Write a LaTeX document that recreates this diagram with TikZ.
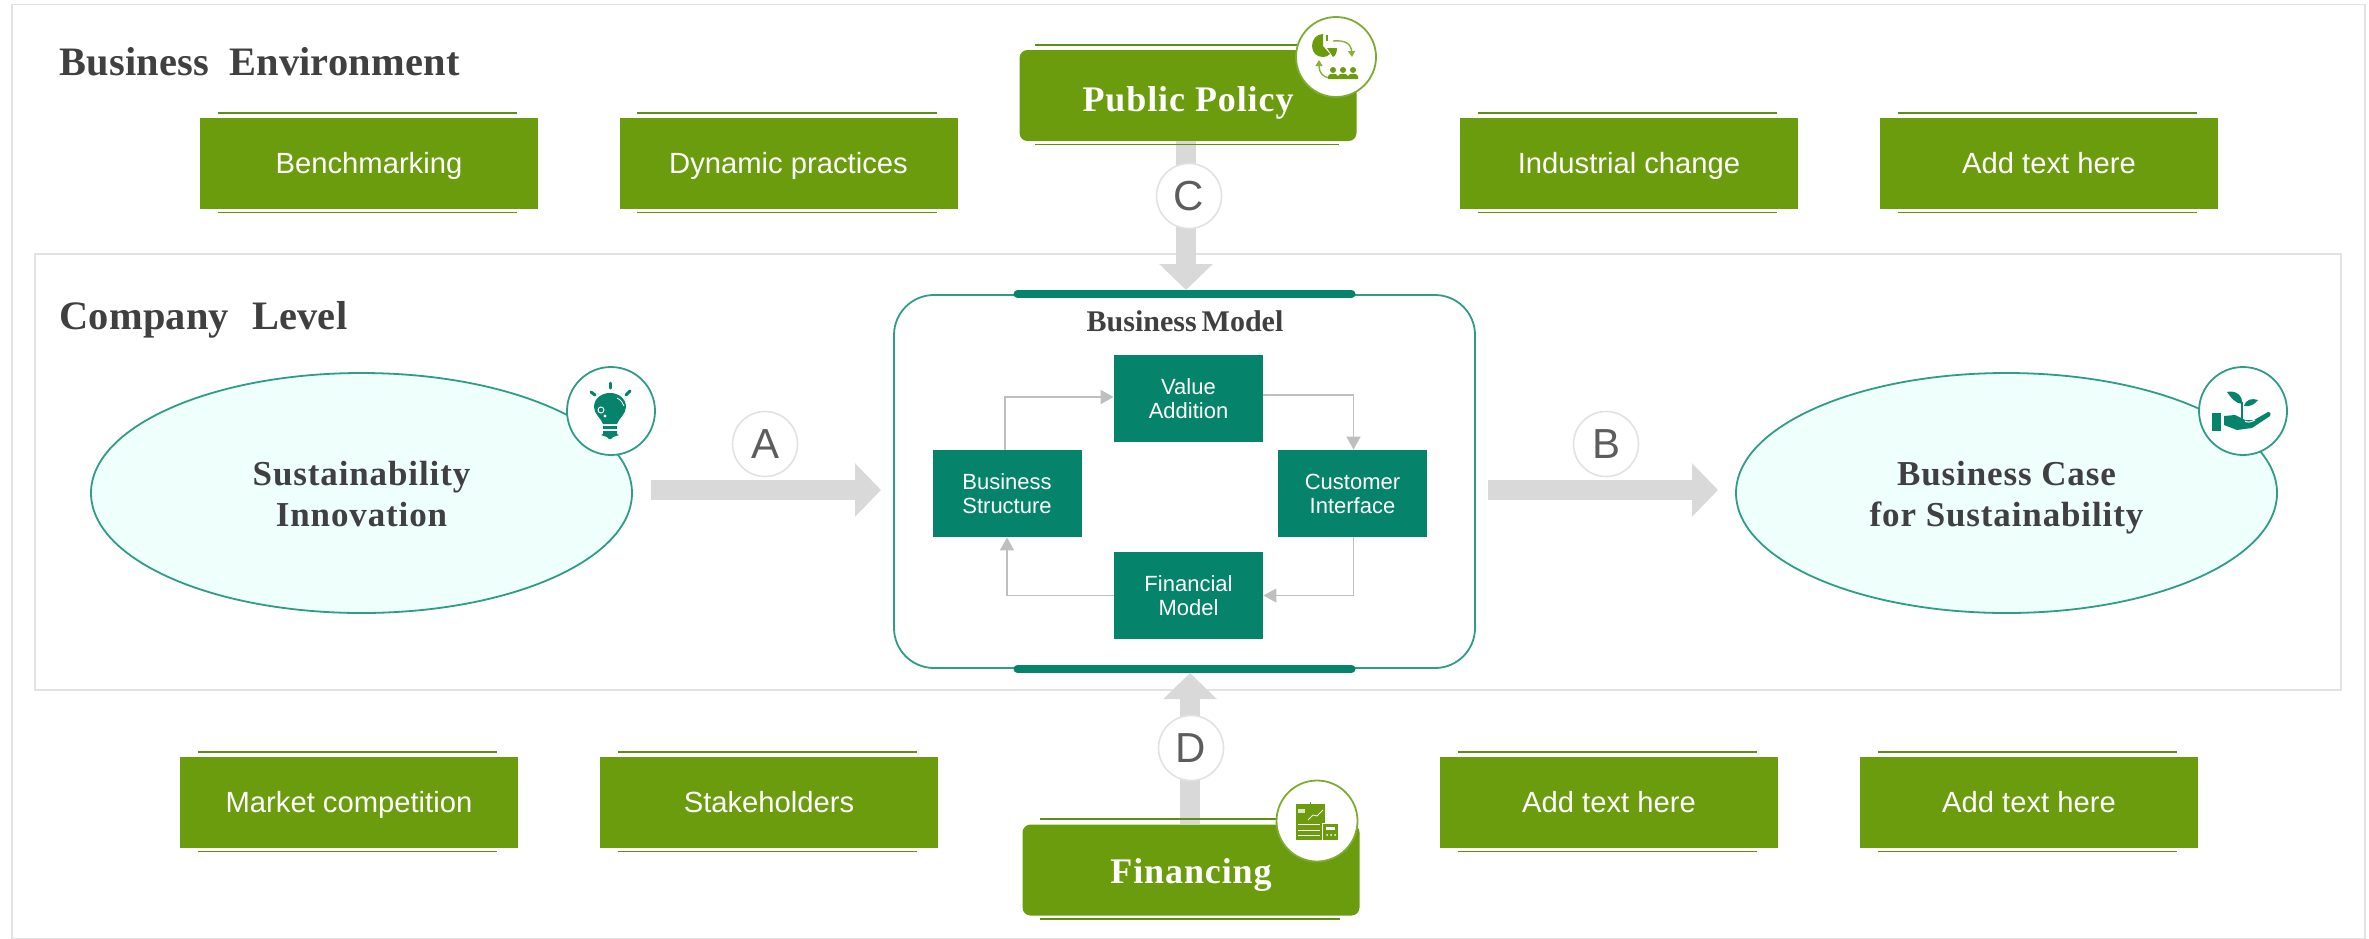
\documentclass[tikz,border=0pt]{standalone}
\usepackage{fontspec}
\setmainfont{Liberation Sans}
\newfontfamily\headfont[LetterSpace=0.5]{Liberation Serif}
\newfontfamily\serifbold{Liberation Serif}
\newfontfamily\spacedserif[LetterSpace=2.5]{Liberation Serif}
\usetikzlibrary{arrows.meta,calc,shapes.geometric}
\definecolor{leaf}{HTML}{6A9C0E}
\definecolor{leafline}{HTML}{5F8F12}
\definecolor{sea}{HTML}{05846B}
\definecolor{seaedge}{HTML}{2F9C88}
\definecolor{mint}{HTML}{EEFFFC}
\definecolor{frame}{HTML}{E2E2E2}
\definecolor{dark}{HTML}{404040}
\definecolor{flow}{HTML}{D9D9D9}
\definecolor{thin}{HTML}{BFBFBF}
\tikzset{
  x=0.5pt,y=-0.5pt,
  framebox/.style={draw=frame,line width=0.8pt,fill=white},
  leafbox/.style={fill=leaf,inner sep=0pt,minimum width=169pt,minimum height=45.5pt,text=white,text height=10pt,text depth=0pt,font=\fontsize{14.6}{17}\selectfont},
  bigbox/.style={fill=leaf,rounded corners=4pt,inner sep=0pt,minimum width=168.5pt,minimum height=45.5pt,text=white,text height=15pt,text depth=2pt,font=\fontsize{18}{22}\spacedserif\bfseries},
  seabox/.style={fill=sea,inner sep=0pt,minimum width=74.5pt,minimum height=43.5pt,text=white,align=center,font=\fontsize{11}{12}\selectfont},
  oval/.style={ellipse,draw=seaedge,fill=mint,line width=0.9pt,inner sep=0pt,minimum width=270.5pt,minimum height=120pt,text=dark,align=center,font=\fontsize{17.5}{20.5}\spacedserif\bfseries},
  badge/.style={circle,fill=white,line width=0.9pt,inner sep=0pt,minimum size=44pt},
  letter/.style={circle,draw=frame,line width=0.8pt,fill=white,inner sep=0pt,minimum size=32.5pt,text=dark!85,font=\fontsize{21}{24}\selectfont},
  head/.style={anchor=west,inner sep=0pt,text=dark,font=\fontsize{20.2}{24}\headfont\bfseries},
  flowarrow/.style={draw=flow,line width=10pt,-{Triangle[length=13pt,width=26pt]}},
  loop/.style={draw=thin,line width=0.8pt,-{Triangle[length=6.5pt,width=7pt]}},
  edge/.style={draw=leafline,line width=0.9pt},
  bar/.style={draw=sea,line width=4pt,line cap=round}
}
\begin{document}
\begin{tikzpicture}
\useasboundingbox (0,0) rectangle (2369,938);
\fill[white] (0,0) rectangle (2369,938);
\node[framebox,minimum width=1176.5pt,minimum height=467.25pt,inner sep=0pt] (outer) at (1188.5,471.75) {};
\node[framebox,minimum width=1153pt,minimum height=218pt,inner sep=0pt] (company) at (1188,472) {};

\node[head] (envtitle) at (59,62) {Business\hspace{5pt} Environment};
\node[head] (comptitle) at (59,320) {Company\hspace{6.5pt} Level};

% boxes
\node[leafbox] (b1) at (369,163.5) {Benchmarking};
\node[leafbox] (b2) at (788.5,163.5) {Dynamic practices};
\node[leafbox] (b3) at (1629,163.5) {Industrial change};
\node[leafbox] (b4) at (2049,163.5) {Add text here};
\node[leafbox] (b5) at (349,802.5) {Market competition};
\node[leafbox] (b6) at (769,802.5) {Stakeholders};
\node[leafbox] (b7) at (1609,802.5) {Add text here};
\node[leafbox] (b8) at (2029,802.5) {Add text here};
\foreach \n in {b1,b2,b3,b4,b5,b6,b7,b8}{
  \draw[edge] ($(\n.north west)+(18,-5)$) -- ($(\n.north east)+(-21,-5)$);
  \draw[edge] ($(\n.south west)+(18,3)$) -- ($(\n.south east)+(-21,3)$);
}

% model
\node[draw=seaedge,fill=white,line width=0.9pt,rounded corners=20pt,inner sep=0pt,minimum width=290.5pt,minimum height=186.5pt] (model) at (1184.5,481.5) {};
\draw[bar] ($(model.north)+(-167,0)$) -- ($(model.north)+(167,0)$);
\draw[bar] ($(model.south)+(-167,0)$) -- ($(model.south)+(167,0)$);
\node[inner sep=0pt,text=dark,font=\fontsize{15}{18}\serifbold\bfseries] (modeltitle) at (1185,321) {Business\hspace{2.5pt}Model};

\node[seabox] (value) at (1188.5,398.5) {Value\\Addition};
\node[seabox] (struct) at (1007,493.5) {Business\\Structure};
\node[seabox] (cust) at (1352.5,493.5) {Customer\\Interface};
\node[seabox] (fin) at (1188.5,595.5) {Financial\\Model};
\draw[loop] ([xshift=-1pt]struct.north) |- (value.west |- 0,397);
\draw[loop] (value.east |- 0,395) -| ([xshift=0.5pt]cust.north);
\draw[loop] ([xshift=0.5pt]cust.south) |- (fin.east);
\draw[loop] (fin.west) -| (struct.south);

% ovals
\node[oval] (innov) at (361.5,493) {\rule{0pt}{13pt}Sustainability\\Innovation};
\node[oval] (case) at (2006.5,493) {\rule{0pt}{16.5pt}Business Case\\for Sustainability};

% flow arrows
\coordinate (a1) at (651,490);
\coordinate (a2) at (881,490);
\coordinate (b1s) at (1488,490);
\coordinate (b2s) at (1718,490);
\node[bigbox,text height=17pt,text depth=1.2pt] (policy) at (1188,95.5) {Public Policy};
\node[bigbox] (finance) at (1191,870) {Financing};
\coordinate (c2) at (1186,290);
\coordinate (d2) at (1190,673);
\draw[flowarrow] (a1) -- (a2);
\draw[flowarrow] (b1s) -- (b2s);
\draw[flowarrow] ([xshift=-1pt]policy.south) -- (c2);
\draw[flowarrow] ([xshift=-0.5pt]finance.north) -- (d2);
\node[letter] (la) at (765,444) {A};
\node[letter] (lb) at (1606,444) {B};
\node[letter] (lc) at (1189,196) {C};
\node[letter] (ld) at (1191,748) {D};

\draw[edge] ($(policy.north west)+(16,-5)$) -- ($(policy.north east)+(-21,-5)$);
\draw[edge] ($(policy.south west)+(16,3)$) -- ($(policy.south east)+(-18,3)$);
\draw[edge] ($(finance.north west)+(18,-5)$) -- ($(finance.north east)+(-21,-5)$);
\draw[edge] ($(finance.south west)+(18,3)$) -- ($(finance.south east)+(-20,3)$);

% badges
\node[badge,draw=leaf!85!white,minimum size=40pt] (ipolicy) at (1336,57) {};
\node[badge,draw=leaf!85!white,minimum size=40.5pt] (ifin) at (1317,821) {};
\node[badge,draw=seaedge] (ibulb) at (611,411) {};
\node[badge,draw=seaedge] (ihand) at (2243,411) {};

% bulb icon
\begin{scope}[shift={(ibulb.center)}]
\fill[sea] (-8,13) .. controls (-10,7) and (-17,3) .. (-17,-4) .. controls (-17,-13) and (-9,-18) .. (-1,-18)
  .. controls (7,-18) and (15,-13) .. (15,-4) .. controls (15,3) and (8,7) .. (6,13) -- cycle;
\fill[sea] (-8,15) -- (6,15) -- (6,18) -- (-8,18) -- cycle;
\fill[sea] (-8,20) -- (6,20) -- (6,23) -- (8,24) -- (2,26) .. controls (0,29) and (-2,29) .. (-4,26) -- (-10,24) -- (-8,23) -- cycle;
\draw[white,line width=0.5pt] (-10,-1) circle (3);
\fill[white] (-6,5) circle (1.6);
\draw[white,line width=0.4pt] (6,-13) .. controls (10,-11) and (12,-8) .. (13,-5);
\draw[sea,line width=1.5pt,line cap=round] (-1,-28) -- (-1,-23);
\draw[sea,line width=1.5pt,line cap=round] (-20,-19) -- (-16,-16);
\draw[sea,line width=1.5pt,line cap=round] (19,-20) -- (15,-16);
\end{scope}

% hand icon
\begin{scope}[shift={(ihand.center)}]
\fill[sea] (-31,2) rectangle (-22,20);
\fill[sea] (-19,5) -- (-8,4) -- (2,9) -- (11,9) -- (25,1) .. controls (28,1) and (28,4) .. (27,5) -- (9,17) -- (-6,19) -- (-19,14) -- cycle;
\draw[sea,line width=1pt] (-1,8) -- (-1,-9);
\fill[sea] (-16,-19) .. controls (-8,-21) and (0,-16) .. (-1,-7) .. controls (-8,-8) and (-12,-13) .. (-16,-19) -- cycle;
\fill[sea] (1,-5) .. controls (3,-12) and (9,-13) .. (15,-11) .. controls (11,-6) and (6,-4) .. (1,-5) -- cycle;
\draw[white,line width=0.5pt] (2,10) .. controls (4,12) and (8,11) .. (12,9);
\end{scope}

% policy icon
\begin{scope}[shift={(ipolicy.center)}]
\fill[leaf] (-13,-11) -- (-13,-23) .. controls (-20,-23) and (-24,-17) .. (-24,-11) .. controls (-24,-4) and (-19,0) .. (-13,0) .. controls (-10,0) and (-8,-1) .. (-6,-3) -- cycle;
\fill[leaf] (-9,-9) -- (1,-9) .. controls (1,-4) and (-1,-1) .. (-3,0) -- cycle;
\fill[leaf] (-10,-22) rectangle (-8,-16);
\draw[leaf!80!white,line width=0.7pt,-{Triangle[length=3pt,width=3.5pt]}] (-3,-16) .. controls (8,-17) and (15,-14) .. (16,0);
\draw[leaf!80!white,line width=0.7pt,-{Triangle[length=3pt,width=3.5pt]}] (-6,21) .. controls (-14,20) and (-17,15) .. (-17,3);
\foreach \p in {-3,7,17}{
  \fill[leaf] (\p,13) circle (3);
  \fill[leaf] (\p-5,22) -- (\p-5,19) .. controls (\p-4,16) and (\p+4,16) .. (\p+5,19) -- (\p+5,22) -- cycle;
}
\end{scope}

% finance icon
\begin{scope}[shift={(ifin.center)}]
\fill[leaf] (-21,-17) rectangle (8,19);
\fill[leaf] (-7.5,-19) rectangle (-6.5,-17);
\fill[white,opacity=.75] (-19,-12) rectangle (-12,-8);
\draw[white,line width=0.4pt] (-9,-1) -- (-4,-6) -- (0,-5) -- (6,-11);
\draw[white,line width=0.5pt] (-19,3) -- (3,3) (-19,9) -- (3,9) (-19,14) -- (3,14);
\fill[white] (5,2) rectangle (22,20);
\fill[leaf] (6,3) rectangle (21,19);
\fill[white] (9,6) rectangle (18,9);
\foreach \q in {10,14,18}{\fill[white] (\q,14) circle (1);}
\end{scope}
\end{tikzpicture}
\end{document}
